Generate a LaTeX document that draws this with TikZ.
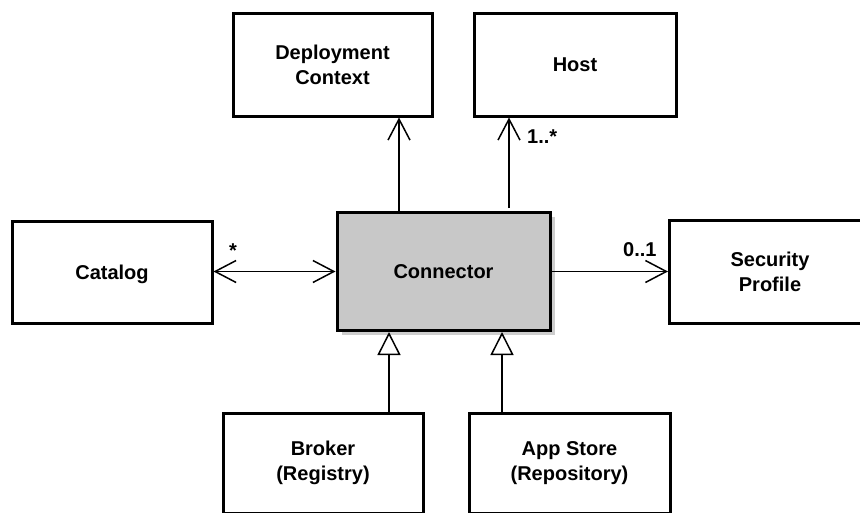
\documentclass[tikz,border=0pt]{standalone}
\usepackage{fontspec}
\setmainfont{Liberation Sans}
\usetikzlibrary{arrows.meta,shadows}
\definecolor{conngray}{RGB}{200,200,200}
\definecolor{shadowgray}{RGB}{205,205,205}
\begin{document}
\begin{tikzpicture}[x=1pt,y=-1pt,
  box/.style={draw=black, line width=3pt, fill=white, align=center,
    font=\fontsize{20}{25}\selectfont\bfseries, inner sep=0pt},
  oneline/.style={text depth=0pt},
  lbl/.style={font=\fontsize{20}{24}\selectfont\bfseries, inner sep=0pt},
  barb/.tip={Straight Barb[length=21pt,width=22pt,line width=1.5pt]},
  assoc/.style={line width=1.5pt, -barb},
  assocboth/.style={line width=1.5pt, barb-barb},
  gen/.style={line width=1.5pt, -{Triangle[open,length=23pt,width=23pt,line width=1.5pt]}}]
\useasboundingbox (0,0) rectangle (860,512);
\clip (0,0) rectangle (860,512);

\node[box, minimum width=199pt, minimum height=103pt] (dc) at (332.5,64.5) {Deployment\\Context};
\node[box, oneline, minimum width=202pt, minimum height=103pt] (host) at (575,64.5) {Host};
\node[box, oneline, minimum width=200pt, minimum height=102pt] (cat) at (112,272) {Catalog};
\node[box, oneline, fill=conngray, minimum width=213pt, minimum height=118pt,
  drop shadow={shadow xshift=4.5pt, shadow yshift=-4.5pt, fill=shadowgray, opacity=1}] (conn) at (443.5,271.5) {Connector};
\node[box, minimum width=201pt, minimum height=103pt] (sp) at (770,271.5) {Security\\Profile};
\node[box, minimum width=200pt, minimum height=100pt] (br) at (323,463) {Broker\\(Registry)};
\node[box, minimum width=201pt, minimum height=100pt] (app) at (569.5,463) {App Store\\(Repository)};

\coordinate (xdc) at (399,0);
\coordinate (hs) at (509,208);
\coordinate (xb) at (389,0);
\coordinate (xa) at (502,0);

\draw[assoc] (conn.north -| xdc) -- (dc.south -| xdc);
\draw[assoc] (hs) -- (host.south -| hs);
\draw[assocboth] (cat.east |- conn.west) -- (conn.west);
\draw[assoc] (conn.east) -- (sp.west |- conn.east);
\draw[gen] (br.north -| xb) -- (conn.south -| xb);
\draw[gen] (app.north -| xa) -- (conn.south -| xa);

\node[lbl, anchor=base] (lstar) at (233,257) {*};
\node[lbl, anchor=base west] (lmany) at (527,143.5) {1..*};
\node[lbl, anchor=base west] (lopt) at (623,256) {0..1};
\end{tikzpicture}
\end{document}
